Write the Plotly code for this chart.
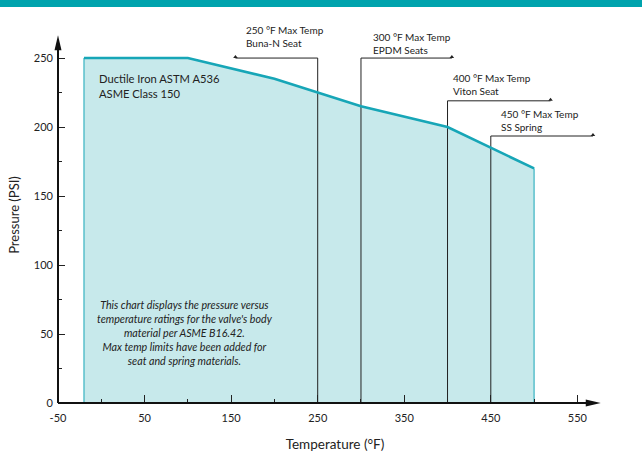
import plotly.graph_objects as go

# ---------------- data ----------------
temps = [-20, 100, 200, 300, 400, 500]          # °F
pressures = [250, 250, 235, 215, 200, 170]      # PSI

limit_temps = [250, 300, 400, 450]
limit_labels = [
    "250 °F Max Temp<br>Buna-N Seat",
    "300 °F Max Temp<br>EPDM Seats",
    "400 °F Max Temp<br>Viton Seat",
    "450 °F Max Temp<br>SS Spring",
]

x_major_ticks = [-50, 50, 150, 250, 350, 450, 550]
x_minor_ticks = [0, 100, 200, 300, 400, 500]
y_major_ticks = [0, 50, 100, 150, 200, 250]
y_minor_ticks = [25, 75, 125, 175, 225]

material_text = "Ductile Iron ASTM A536<br>ASME Class 150"
note_text = ("<i>This chart displays the pressure versus<br>"
             "temperature ratings for the valve's body<br>"
             "material per ASME B16.42.<br>"
             "Max temp limits have been added for<br>"
             "seat and spring materials.</i>")

# ---------------- layout config ----------------
FONT = "Lato, 'Open Sans', sans-serif"
TEAL_BAND = "#00A3AD"
TEAL_LINE = "#17A6B7"
TEAL_FILL = "#C7E9EB"
INK = "#222222"
AXIS = "#111111"

X_RANGE = [-50, 590]
Y_RANGE = [0, 272.5]

# bracket geometry for each limit: (height psi, end temp, label x, label y)
brackets = [
    (250, 155, 165, 265.5),
    (250, 405, 311.5, 260.5),
    (219, 519, 404, 230.5),
    (193.5, 568, 459.5, 204.5),
]

fig = go.Figure()

# area under the rating curve
fig.add_trace(go.Scatter(
    x=[temps[0]] + temps + [temps[-1]],
    y=[0] + pressures + [0],
    fill="toself", fillcolor=TEAL_FILL,
    mode="lines", line=dict(color=TEAL_LINE, width=1),
    hoverinfo="skip", showlegend=False,
))

# max temperature brackets
for t, (h, end, _, _) in zip(limit_temps, brackets):
    fig.add_trace(go.Scatter(
        x=[t, t, end], y=[0, h, h], mode="lines",
        line=dict(color=INK, width=1), hoverinfo="skip", showlegend=False,
    ))
fig.add_trace(go.Scatter(
    x=[b[1] for b in brackets], y=[b[0] + 0.8 for b in brackets],
    mode="markers", marker=dict(symbol="triangle-up", size=4, color=INK),
    hoverinfo="skip", showlegend=False,
))

# rating curve
fig.add_trace(go.Scatter(
    x=temps, y=pressures, mode="lines",
    line=dict(color=TEAL_LINE, width=2.6),
    hoverinfo="skip", showlegend=False,
))

annotations = []
for lab, (_, _, lx, ly) in zip(limit_labels, brackets):
    annotations.append(dict(
        x=lx, y=ly, xref="x", yref="y", text=lab, showarrow=False,
        xanchor="left", yanchor="middle", align="left",
        font=dict(family=FONT, size=10, color=INK),
    ))
annotations.append(dict(
    x=-5, y=230, xref="x", yref="y", text=material_text, showarrow=False,
    xanchor="left", yanchor="middle", align="left",
    font=dict(family=FONT, size=11.2, color=INK),
))
annotations.append(dict(
    x=97, y=51, xref="x", yref="y", text=note_text, showarrow=False,
    xanchor="center", yanchor="middle", align="center",
    font=dict(family=FONT, size=10.7, color=INK),
))

shapes = [
    # top band
    dict(type="rect", xref="paper", yref="paper",
         x0=-0.2, x1=1.2, y0=1 + 20 / 376, y1=1 + 28 / 376,
         fillcolor=TEAL_BAND, line=dict(width=0), layer="above"),
    # x axis line (not clipped vertically)
    dict(type="line", xref="x", yref="paper", x0=-51, y0=0, x1=562, y1=0,
         line=dict(color=AXIS, width=2), layer="above"),
    # y axis line (not clipped horizontally)
    dict(type="line", xref="paper", yref="y", x0=0, y0=-0.7, x1=0, y1=258,
         line=dict(color=AXIS, width=2), layer="above"),
    # x arrow head
    dict(type="path", xref="x", yref="paper", xsizemode="pixel", ysizemode="pixel",
         xanchor=577, yanchor=0, path="M0,0 L-15,3.5 L-15,-3.5 Z",
         fillcolor=AXIS, line=dict(width=0), layer="above"),
    # y arrow head (pixel y offsets point upward)
    dict(type="path", xref="paper", yref="y", xsizemode="pixel", ysizemode="pixel",
         xanchor=0, yanchor=266.5, path="M0,0 L-3.5,-15 L3.5,-15 Z",
         fillcolor=AXIS, line=dict(width=0), layer="above"),
]

fig.update_layout(
    width=642, height=453,
    margin=dict(l=58, r=30, t=27, b=50, autoexpand=False),
    paper_bgcolor="white", plot_bgcolor="white",
    font=dict(family=FONT, color=INK),
    showlegend=False,
    annotations=annotations,
    shapes=shapes,
    xaxis=dict(
        range=X_RANGE, showgrid=False, zeroline=False, showline=False,
        automargin=False,
        tickmode="array", tickvals=x_major_ticks,
        ticktext=[str(v) for v in x_major_ticks],
        ticks="inside", ticklen=8, tickwidth=1, tickcolor=INK,
        tickfont=dict(family=FONT, size=11, color=INK),
        ticklabelstandoff=7,
        minor=dict(tickvals=x_minor_ticks, ticks="inside", ticklen=4,
                   tickwidth=1, tickcolor=INK, showgrid=False),
        title=dict(text="Temperature (°F)", standoff=16,
                   font=dict(family=FONT, size=13.5, color=INK)),
    ),
    yaxis=dict(
        range=Y_RANGE, showgrid=False, zeroline=False, showline=False,
        automargin=False,
        tickmode="array", tickvals=y_major_ticks,
        ticktext=[str(v) for v in y_major_ticks],
        ticks="inside", ticklen=7, tickwidth=1, tickcolor=INK,
        tickfont=dict(family=FONT, size=11, color=INK),
        ticklabelstandoff=4,
        minor=dict(tickvals=y_minor_ticks, ticks="inside", ticklen=4,
                   tickwidth=1, tickcolor=INK, showgrid=False),
        title=dict(text="Pressure (PSI)", standoff=11,
                   font=dict(family=FONT, size=13, color=INK)),
    ),
)

fig.write_html("out.html", config={"displayModeBar": False},
               post_script="document.body.style.margin='0';")
